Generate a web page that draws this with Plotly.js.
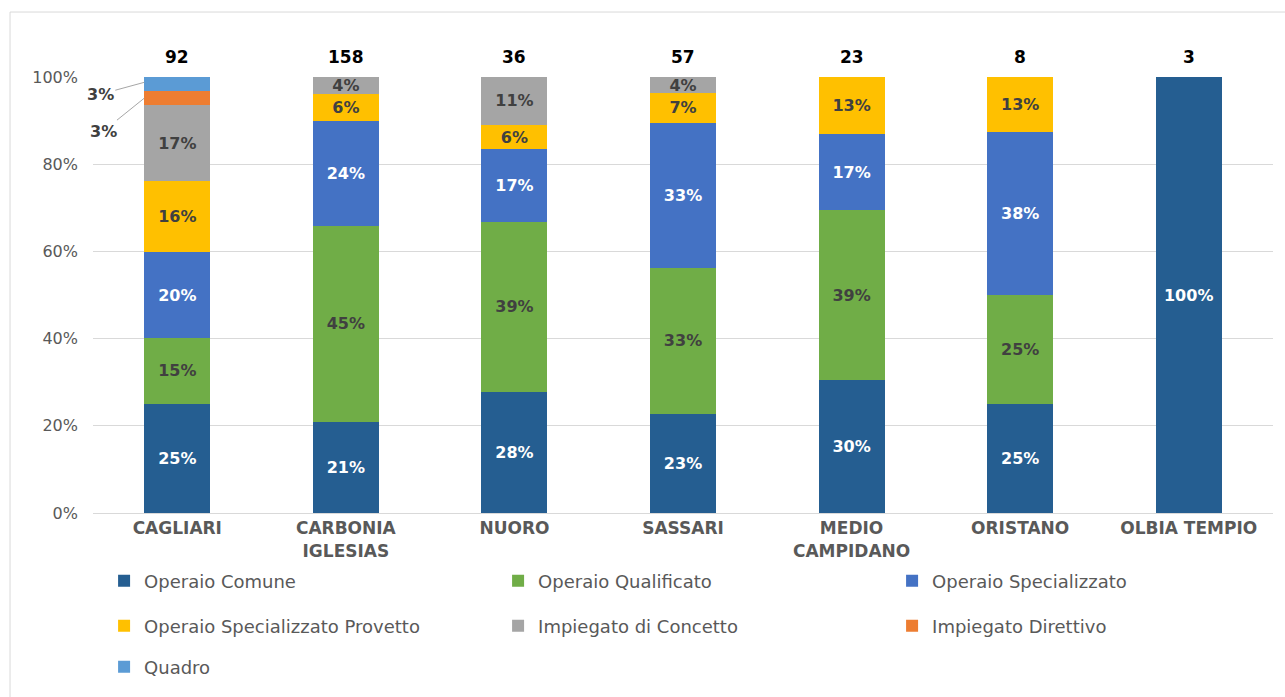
<!DOCTYPE html>
<html>
<head>
<meta charset="utf-8">
<script src="https://cdn.plot.ly/plotly-3.0.1.min.js"></script>
<style>
  html, body { margin: 0; padding: 0; background: #ffffff; }
  #chart { width: 1285px; height: 697px; }
</style>
</head>
<body>
<div id="chart"></div>
<script>
// Categories (provinces)
var categories = ["CAGLIARI", "CARBONIA<br>IGLESIAS", "NUORO", "SASSARI", "MEDIO<br>CAMPIDANO", "ORISTANO", "OLBIA TEMPIO"];
// Totals shown above each bar
var totals = [92, 158, 36, 57, 23, 8, 3];
// Series values (percent of each province)
var operaioComune        = [25.0, 20.9, 27.8, 22.8, 30.4, 25.0, 100];
var operaioQualificato   = [15.2, 44.9, 38.9, 33.3, 39.1, 25.0, 0];
var operaioSpecializzato = [19.6, 24.1, 16.7, 33.3, 17.4, 37.5, 0];
var operaioProvetto      = [16.3, 6.3, 5.6, 7.0, 13.0, 12.5, 0];
var impiegatoConcetto    = [17.4, 3.8, 11.1, 3.5, 0, 0, 0];
var impiegatoDirettivo   = [3.3, 0, 0, 0, 0, 0, 0];
var quadro               = [3.3, 0, 0, 0, 0, 0, 0];

var seriesNames = ["Operaio Comune", "Operaio Qualificato", "Operaio Specializzato",
  "Operaio Specializzato Provetto", "Impiegato di Concetto", "Impiegato Direttivo", "Quadro"];
var seriesValues = [operaioComune, operaioQualificato, operaioSpecializzato,
  operaioProvetto, impiegatoConcetto, impiegatoDirettivo, quadro];
var seriesColors = ["#255E91", "#70AD47", "#4472C4", "#FFC000", "#A5A5A5", "#ED7D31", "#5B9BD5"];
var labelColors = ["#ffffff", "#404040", "#ffffff", "#404040", "#404040", "#404040", "#404040"];
var legendIds = ["legend", "legend", "legend", "legend2", "legend2", "legend2", "legend3"];
var insideLabels = [true, true, true, true, true, false, false];

var FONT = "DejaVu Sans";

var traces = seriesNames.map(function (name, i) {
  var vals = seriesValues[i];
  return {
    type: "bar",
    name: name,
    x: categories,
    y: vals,
    marker: { color: seriesColors[i], line: { width: 0 } },
    text: vals.map(function (v) { return (insideLabels[i] && v > 0) ? Math.round(v) + "%" : ""; }),
    texttemplate: "%{text}",
    textposition: "inside",
    insidetextanchor: "middle",
    constraintext: "none",
    textangle: 0,
    textfont: { family: FONT, size: 16, color: labelColors[i], weight: "bold" },
    legend: legendIds[i],
    hoverinfo: "skip"
  };
});

var annotations = categories.map(function (c, i) {
  return {
    x: c, y: 100, xref: "x", yref: "y",
    text: "<b>" + totals[i] + "</b>",
    showarrow: false, yanchor: "bottom", yshift: 8,
    font: { family: FONT, size: 17, color: "#000000" }
  };
});

// Outside labels for small Cagliari segments with leader lines
var cumBelowDir = 0;
for (var k = 0; k < 5; k++) cumBelowDir += seriesValues[k][0];
var cumBelowQuadro = cumBelowDir + impiegatoDirettivo[0];
annotations.push({
  x: categories[0], y: cumBelowQuadro + quadro[0] * 0.6, xref: "x", yref: "y",
  xshift: -33,
  text: "<b>" + Math.round(quadro[0]) + "%</b>",
  showarrow: true, arrowhead: 0, arrowwidth: 1, arrowcolor: "#A6A6A6",
  ax: -44, ay: 12, standoff: 0,
  font: { family: FONT, size: 16, color: "#404040" }
});
annotations.push({
  x: categories[0], y: cumBelowDir + impiegatoDirettivo[0] * 0.5, xref: "x", yref: "y",
  xshift: -33,
  text: "<b>" + Math.round(impiegatoDirettivo[0]) + "%</b>",
  showarrow: true, arrowhead: 0, arrowwidth: 1, arrowcolor: "#A6A6A6",
  ax: -41, ay: 33, standoff: 0,
  font: { family: FONT, size: 16, color: "#404040" }
});

var legendCommon = {
  orientation: "h",
  xref: "container",
  yref: "container",
  xanchor: "left",
  yanchor: "middle",
  x: 0.081,
  entrywidth: 349,
  entrywidthmode: "pixels",
  font: { family: FONT, size: 18, color: "#595959" },
  bgcolor: "rgba(0,0,0,0)",
  traceorder: "normal",
  itemclick: false,
  itemdoubleclick: false
};
function legendAt(y) {
  var o = JSON.parse(JSON.stringify(legendCommon));
  o.y = y;
  return o;
}

var layout = {
  width: 1285,
  height: 697,
  margin: { l: 93, r: 12, t: 77, b: 184 },
  paper_bgcolor: "#ffffff",
  plot_bgcolor: "#ffffff",
  barmode: "stack",
  bargap: 0.608,
  showlegend: true,
  hovermode: false,
  font: { family: FONT, color: "#595959" },
  xaxis: {
    type: "category",
    range: [-0.5, categories.length - 0.5],
    autorange: false,
    showgrid: false,
    showline: true,
    linecolor: "#D9D9D9",
    linewidth: 1,
    ticks: "",
    tickfont: { family: FONT, size: 17, color: "#595959", weight: "bold" },
    fixedrange: true
  },
  yaxis: {
    range: [0, 100],
    autorange: false,
    dtick: 20,
    tick0: 0,
    ticksuffix: "%",
    showgrid: true,
    gridcolor: "#D9D9D9",
    gridwidth: 1,
    zeroline: false,
    showline: false,
    ticks: "",
    ticklabelstandoff: 14,
    tickfont: { family: FONT, size: 16, color: "#595959" },
    fixedrange: true
  },
  legend: legendAt(0.1664),
  legend2: legendAt(0.1019),
  legend3: legendAt(0.043),
  annotations: annotations,
  shapes: [{
    type: "rect", xref: "paper", yref: "paper",
    x0: -0.0703, x1: 1.02, y0: 1.149, y1: -0.46,
    line: { color: "#D9D9D9", width: 1 },
    fillcolor: "rgba(0,0,0,0)",
    layer: "below"
  }]
};

Plotly.newPlot("chart", traces, layout, { displayModeBar: false, staticPlot: true });
</script>
</body>
</html>
